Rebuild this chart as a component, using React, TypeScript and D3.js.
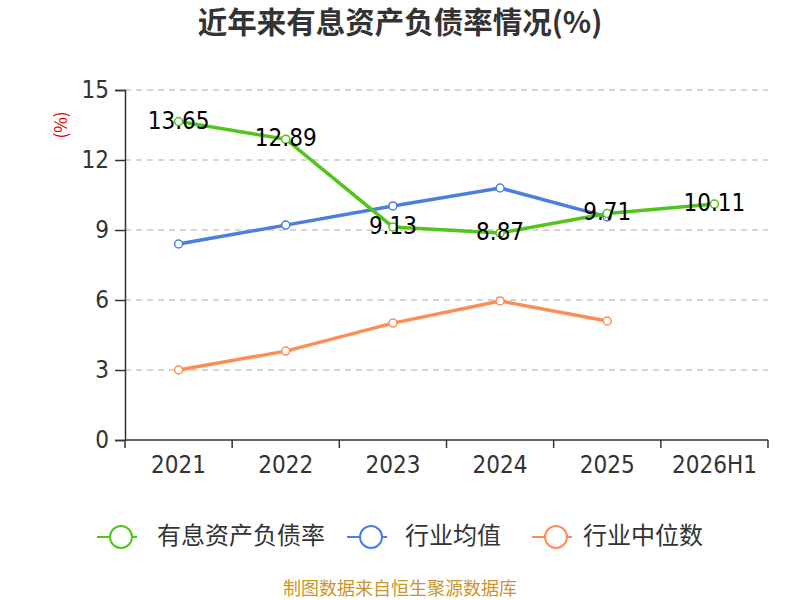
import { useEffect, useRef } from "react";
import * as d3 from "d3";

const categories = ["2021", "2022", "2023", "2024", "2025", "2026H1"];
const debtRatio = [13.65, 12.89, 9.13, 8.87, 9.71, 10.11];
const industryAvg = [8.4, 9.21, 10.03, 10.8, 9.56];
const industryMedian = [3.0, 3.81, 5.01, 5.96, 5.1];
const yTicks = [0, 3, 6, 9, 12, 15];

const series = [
  { name: "有息资产负债率", values: debtRatio, color: "#52c41a" },
  { name: "行业均值", values: industryAvg, color: "#4a7fe0" },
  { name: "行业中位数", values: industryMedian, color: "#ff8c55" },
];

const FONT = "'Noto Sans CJK SC', 'Noto Sans', sans-serif";
const NUM_FONT = "'Liberation Sans Narrow', 'DejaVu Sans Condensed', 'DejaVu Sans', sans-serif";

export default function App() {
  const ref = useRef<SVGSVGElement>(null);

  useEffect(() => {
    if (!ref.current) return;
    const el = ref.current;
    const width = 800;
    const height = 600;
    const margin = { top: 90, right: 32, bottom: 160, left: 125 };
    const innerWidth = width - margin.left - margin.right;
    const innerHeight = height - margin.top - margin.bottom;

    const root = d3.select(el);
    root.selectAll("*").remove();

    root
      .append("text")
      .attr("x", width / 2)
      .attr("y", 25)
      .attr("text-anchor", "middle")
      .attr("dominant-baseline", "middle")
      .style("font-family", FONT)
      .style("font-size", "29.5px")
      .style("font-weight", "bold")
      .style("fill", "#333")
      .text("近年来有息资产负债率情况(%)");

    const svg = root.append("g").attr("transform", `translate(${margin.left},${margin.top})`);

    const x = d3.scaleBand().domain(categories).range([0, innerWidth]);
    const y = d3.scaleLinear().domain([0, 15]).range([innerHeight, 0]);

    // Grid lines
    svg
      .selectAll(".grid")
      .data(yTicks.filter((t) => t > 0))
      .join("line")
      .attr("x1", 0)
      .attr("x2", innerWidth)
      .attr("y1", (d) => y(d))
      .attr("y2", (d) => y(d))
      .attr("stroke", "#c8c8c8")
      .attr("stroke-width", 1.5)
      .attr("stroke-dasharray", "6 5");

    // Y axis
    svg
      .append("g")
      .call(d3.axisLeft(y).tickValues(yTicks).tickSize(10).tickPadding(6))
      .call((g) => g.select(".domain").attr("stroke", "#333").attr("stroke-width", 1.5))
      .call((g) => g.selectAll("line").attr("stroke", "#333").attr("stroke-width", 1.5))
      .selectAll("text")
      .style("font-family", NUM_FONT)
      .style("font-stretch", "condensed")
      .style("font-size", "24px")
      .style("fill", "#333");

    // X axis
    const xg = svg.append("g").attr("transform", `translate(0,${innerHeight})`);
    xg.append("line")
      .attr("x1", 0)
      .attr("x2", innerWidth)
      .attr("stroke", "#333")
      .attr("stroke-width", 1.5);
    const bounds = [...categories.map((c) => x(c)!), innerWidth];
    xg.selectAll(".xt")
      .data(bounds)
      .join("line")
      .attr("x1", (d) => d)
      .attr("x2", (d) => d)
      .attr("y1", 0)
      .attr("y2", 8)
      .attr("stroke", "#333")
      .attr("stroke-width", 1.5);
    xg.selectAll(".xl")
      .data(categories)
      .join("text")
      .attr("x", (d) => x(d)! + x.bandwidth() / 2)
      .attr("y", 26)
      .attr("text-anchor", "middle")
      .attr("dominant-baseline", "middle")
      .style("font-family", NUM_FONT)
      .style("font-stretch", "condensed")
      .style("font-size", "24px")
      .style("fill", "#333")
      .text((d) => d);

    // Unit label
    root
      .append("text")
      .attr("transform", `translate(62,125) rotate(-90)`)
      .attr("text-anchor", "middle")
      .attr("dominant-baseline", "middle")
      .style("font-family", FONT)
      .style("font-size", "17px")
      .style("fill", "#e00000")
      .text("(%)");

    const cx = (i: number) => x(categories[i])! + x.bandwidth() / 2;
    const line = d3
      .line<number>()
      .x((_, i) => cx(i))
      .y((d) => y(d));

    // Draw in reverse so the main series sits on top
    [...series].reverse().forEach((s) => {
      svg
        .append("path")
        .datum(s.values)
        .attr("d", line)
        .attr("fill", "none")
        .attr("stroke", s.color)
        .attr("stroke-width", 3.5);
      svg
        .selectAll(null)
        .data(s.values)
        .join("circle")
        .attr("cx", (_, i) => cx(i))
        .attr("cy", (d) => y(d))
        .attr("r", 4)
        .attr("fill", "#fff")
        .attr("stroke", s.color)
        .attr("stroke-width", 1.5);
    });

    // Data labels
    svg
      .selectAll(".lbl")
      .data(debtRatio)
      .join("text")
      .attr("x", (_, i) => cx(i))
      .attr("y", (d) => y(d))
      .attr("text-anchor", "middle")
      .attr("dominant-baseline", "middle")
      .style("font-family", NUM_FONT)
      .style("font-stretch", "condensed")
      .style("font-size", "24px")
      .style("fill", "#000")
      .text((d) => d.toFixed(2));

    // Legend
    const legendItems = [
      { x: 97, tx: 157 },
      { x: 347, tx: 405 },
      { x: 532, tx: 583 },
    ];
    const legend = root.append("g").attr("transform", "translate(0,537)");
    series.forEach((s, i) => {
      const li = legendItems[i];
      legend
        .append("line")
        .attr("x1", li.x)
        .attr("x2", li.x + 40)
        .attr("stroke", s.color)
        .attr("stroke-width", 2);
      legend
        .append("circle")
        .attr("cx", li.x + 24)
        .attr("r", 11)
        .attr("fill", "#fff")
        .attr("stroke", s.color)
        .attr("stroke-width", 2);
      legend
        .append("text")
        .attr("x", li.tx)
        .attr("dominant-baseline", "middle")
        .style("font-family", FONT)
        .style("font-size", "24px")
        .style("fill", "#333")
        .text(s.name);
    });

    root
      .append("text")
      .attr("x", width / 2)
      .attr("y", 590)
      .attr("text-anchor", "middle")
      .attr("dominant-baseline", "middle")
      .style("font-family", FONT)
      .style("font-size", "18px")
      .style("fill", "#c8962e")
      .text("制图数据来自恒生聚源数据库");
  }, []);

  return (
    <div style={{ position: "absolute", left: 0, top: 0, width: 800, height: 600, overflow: "hidden" }}>
      <svg ref={ref} width={800} height={600} style={{ display: "block" }} />
    </div>
  );
}
